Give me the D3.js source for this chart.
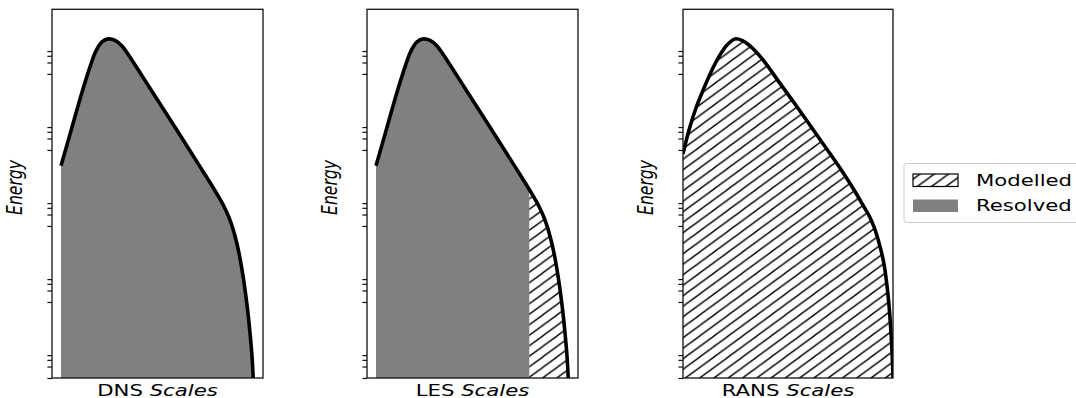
<!DOCTYPE html>
<html>
<head>
<meta charset="utf-8">
<script src="https://cdn.jsdelivr.net/npm/d3@7"></script>
<style>
  body { margin: 0; background: #fff; }
  svg { display: block; font-family: "DejaVu Sans", sans-serif; }
</style>
</head>
<body>
<svg id="chart" width="1076" height="398"></svg>
<script>
// energy spectrum: position along the scale axis (0..1) and energy
const dnsScale  = [0.0427, 0.0934, 0.1408, 0.1801, 0.2085, 0.2370, 0.2668, 0.2986, 0.3318, 0.3853, 0.4645, 0.5436, 0.6223,
                   0.7014, 0.7488, 0.7867, 0.8152, 0.8389, 0.8578, 0.8768, 0.8934, 0.9076, 0.9194, 0.9303, 0.9398, 0.9479, 0.9536];
const dnsEnergy = [3.86e5, 3.72e6, 3.1e7, 1.53e8, 4.03e8, 6.95e8, 8.34e8, 7.62e8, 5.46e8, 2.03e8, 4.2e7, 8.7e6, 1.8e6,
                   3.64e5, 1.39e5, 6.24e4, 3.26e4, 1.67e4, 8.34e3, 3.36e3, 1.2e3, 403, 135, 42.8, 12.7, 3.79, 1.0];
const ransScale  = [0.0, 0.0286, 0.0619, 0.1, 0.1381, 0.1762, 0.2095, 0.2476, 0.2810, 0.3190, 0.3810, 0.4619, 0.5571, 0.6524,
                    0.7476, 0.8190, 0.8619, 0.8881, 0.9095, 0.9262, 0.9429, 0.9571, 0.9705, 0.9800, 0.9871, 0.9929, 0.9971, 1.0];
const ransEnergy = [7.85e5, 3.36e6, 1.27e7, 4.28e7, 1.27e8, 3.16e8, 5.8e8, 8.34e8, 7.62e8, 5.46e8, 2.34e8, 5.62e7, 1.06e7, 1.89e6,
                    3.36e5, 8.09e4, 3.16e4, 1.78e4, 9.42e3, 4.98e3, 2.27e3, 1.0e3, 298, 94.2, 29.8, 8.86, 2.98, 1.0];
const lesCutoff = 0.769;

const panelNames = ['DNS', 'LES', 'RANS'];
const tickDecades = [1, 1e2, 1e4, 1e6, 1e8];
const tickMantissas = [1, 2, 3, 4];
const legendLabels = ['Modelled', 'Resolved'];

// the picture is stretched sideways, text and hatching follow that
const sx = 1.36;
const axTop = 9.3, axBottom = 378;
const panelLeft  = [52, 367, 683];
const panelRight = [263, 578, 893];
const grey = '#808080';
const hs = 10.5;

const svg = d3.select('#chart');
const defs = svg.append('defs');

const hatch = defs.append('pattern')
    .attr('id', 'hatch')
    .attr('patternUnits', 'userSpaceOnUse')
    .attr('width', hs).attr('height', hs)
    .attr('patternTransform', `scale(${sx},1)`);
hatch.append('path')
    .attr('d', `M-1,1 l2,-2 M0,${hs} l${hs},${-hs} M${hs - 1},${hs + 1} l2,-2`)
    .attr('stroke', '#000').attr('stroke-width', 1.2);

function stretchedText(g, x, y, rotate) {
    return g.append('text')
        .attr('transform', `translate(${x},${y}) scale(${sx},1)` + (rotate ? ` rotate(${rotate})` : ''))
        .attr('font-size', 15.6)
        .attr('fill', '#000');
}

const y = d3.scaleLog().domain([1, Math.pow(10, 9.7)]).range([axBottom, axTop]);
const ticks = tickDecades.flatMap(d => tickMantissas.map(m => d * m));

const spectra = {
    DNS:  d3.zip(dnsScale, dnsEnergy),
    LES:  d3.zip(dnsScale, dnsEnergy),
    RANS: d3.zip(ransScale, ransEnergy)
};

panelNames.forEach((name, i) => {
    const x = d3.scaleLinear().domain([0, 1]).range([panelLeft[i], panelRight[i]]);
    const data = spectra[name];
    const g = svg.append('g');

    defs.append('clipPath').attr('id', 'clip' + i)
        .append('rect')
        .attr('x', x(0)).attr('y', axTop)
        .attr('width', x(1) - x(0)).attr('height', axBottom - axTop);

    const curve = d3.curveCatmullRom.alpha(0.5);
    const area = d3.area()
        .x(d => x(d[0]))
        .y0(y(1))
        .y1(d => y(d[1]))
        .curve(curve);
    const line = d3.line()
        .x(d => x(d[0]))
        .y(d => y(d[1]))
        .curve(curve);

    const plot = g.append('g').attr('clip-path', `url(#clip${i})`);

    if (name === 'DNS') {
        plot.append('path').attr('d', area(data)).attr('fill', grey);
    } else if (name === 'RANS') {
        plot.append('path').attr('d', area(data)).attr('fill', 'url(#hatch)');
    } else {
        defs.append('clipPath').attr('id', 'resolved' + i)
            .append('rect').attr('x', x(0)).attr('y', axTop)
            .attr('width', x(lesCutoff) - x(0)).attr('height', axBottom - axTop);
        defs.append('clipPath').attr('id', 'modelled' + i)
            .append('rect').attr('x', x(lesCutoff)).attr('y', axTop)
            .attr('width', x(1) - x(lesCutoff)).attr('height', axBottom - axTop);
        plot.append('path').attr('d', area(data)).attr('fill', grey)
            .attr('clip-path', `url(#resolved${i})`);
        plot.append('path').attr('d', area(data)).attr('fill', 'url(#hatch)')
            .attr('clip-path', `url(#modelled${i})`);
    }

    plot.append('path').attr('d', line(data))
        .attr('fill', 'none').attr('stroke', '#000')
        .attr('stroke-width', 3.6).attr('stroke-linejoin', 'round');

    // frame
    g.append('rect')
        .attr('x', x(0)).attr('y', axTop)
        .attr('width', x(1) - x(0)).attr('height', axBottom - axTop)
        .attr('fill', 'none').attr('stroke', '#111').attr('stroke-width', 1.3);

    const axis = g.append('g')
        .attr('transform', `translate(${x(0)},0)`)
        .call(d3.axisLeft(y).tickValues(ticks).tickSize(4.6).tickFormat(''));
    axis.select('.domain').remove();
    axis.selectAll('line').attr('stroke', '#111').attr('stroke-width', 1.2);

    const label = stretchedText(g, (x(0) + x(1)) / 2, 395.5).attr('text-anchor', 'middle');
    label.append('tspan').text(name + ' ');
    label.append('tspan').attr('font-style', 'italic').text('Scales');

    stretchedText(g, x(0) - 30, 187.5, -90)
        .attr('text-anchor', 'middle')
        .attr('font-style', 'italic')
        .text('Energy');
});

// legend
const legend = svg.append('g');
legend.append('rect')
    .attr('x', 904).attr('y', 163.5).attr('width', 200).attr('height', 59)
    .attr('rx', 3).attr('fill', '#fff').attr('stroke', '#cccccc').attr('stroke-width', 1);

const legendFill = ['url(#hatch)', grey];
legendLabels.forEach((lab, j) => {
    const cy = 180 + j * 25.5;
    legend.append('rect')
        .attr('x', 913).attr('y', cy - 6).attr('width', 45).attr('height', 12.5)
        .attr('fill', legendFill[j])
        .attr('stroke', j === 0 ? '#000' : 'none').attr('stroke-width', 1.2);
    stretchedText(legend, 976, cy + 5.8).text(lab);
});
</script>
</body>
</html>
